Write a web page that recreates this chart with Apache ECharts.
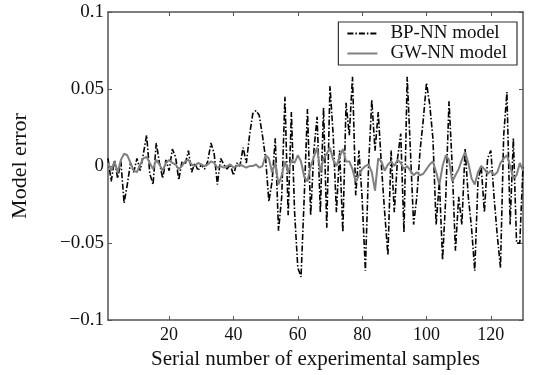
<!DOCTYPE html>
<html>
<head>
<meta charset="utf-8">
<script src="https://cdn.jsdelivr.net/npm/echarts@6/dist/echarts.min.js"></script>
<style>
  html, body { margin: 0; padding: 0; background: #fff; }
  #chart { width: 534px; height: 375px; }
</style>
</head>
<body>
<div id="chart"></div>
<script>
// error values, samples 1..130
const bpErr = [
  0.005, -0.01, 0.004, -0.008, 0.003, -0.024, -0.012, 0.002, -0.004, 0.005,
  -0.003, 0.008, 0.02, -0.005, -0.012, 0.015, 0.002, -0.008, 0.004, -0.003,
  0.011, 0.006, -0.009, 0.003, 0.001, 0.01, -0.004, 0.002, -0.003, 0.001,
  -0.002, 0.003, 0.015, 0.008, -0.012, 0.005, 0.001, -0.002, 0.001, -0.006,
  0.002, 0.0, 0.012, 0.002, 0.02, 0.034, 0.036, 0.033, 0.02, 0.005,
  -0.023, -0.01, 0.018, -0.042, -0.02, 0.045, -0.032, 0.035, -0.03, -0.066,
  -0.072, -0.02, 0.037, -0.032, 0.01, 0.032, -0.03, 0.038, -0.04, 0.052,
  0.02, -0.03, 0.01, -0.043, 0.041, 0.02, 0.058, -0.019, 0.01, -0.021,
  -0.068, 0.0, 0.043, 0.01, 0.035, 0.0, -0.03, -0.058, 0.01, -0.03,
  0.005, 0.021, -0.043, 0.058, 0.01, -0.038, -0.02, 0.01, 0.03, 0.054,
  0.04, 0.018, -0.038, -0.01, -0.061, -0.02, 0.042, 0.0, -0.055, -0.02,
  -0.038, 0.011, -0.02, -0.04, -0.068, -0.01, 0.0, -0.03, 0.005, 0.01,
  -0.02, -0.045, -0.066, 0.02, 0.048, -0.038, 0.018, -0.05, -0.05, 0.0
];
const gwErr = [
  0.002, -0.003, 0.003, -0.004, 0.004, 0.008, 0.007, 0.002, -0.003, -0.004,
  0.001, 0.005, 0.006, 0.002, -0.002, 0.004, 0.001, -0.003, 0.002, 0.004,
  0.002, 0.001, -0.002, 0.0, 0.003, 0.004, 0.001, 0.0, 0.002, 0.001,
  0.0, 0.001, 0.003, 0.002, -0.001, 0.0, -0.001, 0.0, 0.001, -0.001,
  0.0, 0.001, 0.0, -0.001, 0.0, 0.0, 0.001, -0.001, 0.0, 0.007,
  0.005, -0.004, 0.002, -0.012, -0.006, 0.003, -0.004, 0.004, 0.002, 0.007,
  0.003, -0.007, -0.01, 0.0, 0.006, 0.012, -0.004, 0.005, 0.008, 0.012,
  0.004, 0.0, 0.006, 0.011, 0.003, 0.003, -0.002, -0.01, -0.006, -0.002,
  0.0, 0.001, -0.004, -0.016, 0.005, 0.003, -0.003, 0.001, 0.003, 0.0,
  0.004, 0.002, -0.002, 0.0, -0.003, -0.006, -0.004, -0.006, -0.005, -0.002,
  0.001, 0.003, -0.004, -0.012, 0.0, 0.007, 0.004, -0.01, -0.006, -0.002,
  0.004, 0.009, 0.002, -0.008, -0.012, -0.004, 0.0, -0.002, -0.005, -0.003,
  -0.006, -0.004, 0.002, 0.005, 0.007, 0.0, -0.008, -0.006, 0.002, -0.003
];
const xTicks = [20, 40, 60, 80, 100, 120];
const seriesNames = ['BP-NN model', 'GW-NN model'];

const font = '"Liberation Serif", "DejaVu Serif", serif';
const axisColor = '#555';

const toPairs = (arr) => arr.map((v, i) => [i + 1, v]);
const fmtY = (v) => (v === 0 ? '0' : String(+v.toFixed(2)).replace('-', '\u2212'));

const chart = echarts.init(document.getElementById('chart'));

const xBase = {
    type: 'value',
    min: 1,
    max: 130,
    splitLine: {show: false},
    axisLine: {show: true, onZero: false, lineStyle: {color: axisColor, width: 1.5}},
    axisTick: {show: true, inside: true, length: 4, customValues: xTicks, lineStyle: {color: axisColor}},
};
const yBase = {
    type: 'value',
    min: -0.1,
    max: 0.1,
    interval: 0.05,
    splitLine: {show: false},
    axisLine: {show: true, onZero: false, lineStyle: {color: axisColor, width: 1.5}},
    axisTick: {show: true, inside: true, length: 4, lineStyle: {color: axisColor}},
};

chart.setOption({
    animation: false,
    grid: {left: 108, right: 11, top: 12, bottom: 52},
    legend: {
        data: seriesNames,
        orient: 'vertical',
        right: 17,
        top: 22,
        itemWidth: 30,
        itemHeight: 14,
        itemGap: 1,
        padding: [2, 10, 2, 8],
        borderColor: '#333',
        borderWidth: 1.2,
        borderRadius: 0,
        itemStyle: {opacity: 0},
        textStyle: {fontFamily: font, fontSize: 19, color: '#111', padding: [0, 0, 0, 8]}
    },
    xAxis: [
        Object.assign({}, xBase, {
            position: 'bottom',
            name: 'Serial number of experimental samples',
            nameLocation: 'middle',
            nameGap: 28,
            nameTextStyle: {fontFamily: font, fontSize: 21, color: '#111'},
            axisLabel: {
                fontFamily: font, fontSize: 18, color: '#111', margin: 6,
                customValues: xTicks
            }
        }),
        Object.assign({}, xBase, {position: 'top', axisLabel: {show: false}})
    ],
    yAxis: [
        Object.assign({}, yBase, {
            position: 'left',
            name: 'Model error',
            nameLocation: 'middle',
            nameGap: 77,
            nameTextStyle: {fontFamily: font, fontSize: 22, color: '#111'},
            axisLabel: {fontFamily: font, fontSize: 19, color: '#111', margin: 4, formatter: fmtY}
        }),
        Object.assign({}, yBase, {position: 'right', axisLabel: {show: false}})
    ],
    series: [
        {
            name: seriesNames[0],
            type: 'line',
            data: toPairs(bpErr),
            symbol: 'none',
            z: 2,
            itemStyle: {color: '#000'},
            lineStyle: {color: '#000', width: 1.6, type: [6, 2, 1.5, 2]}
        },
        {
            name: seriesNames[1],
            type: 'line',
            data: toPairs(gwErr),
            symbol: 'none',
            z: 3,
            itemStyle: {color: '#808080'},
            lineStyle: {color: '#808080', width: 2}
        }
    ]
});
</script>
</body>
</html>
